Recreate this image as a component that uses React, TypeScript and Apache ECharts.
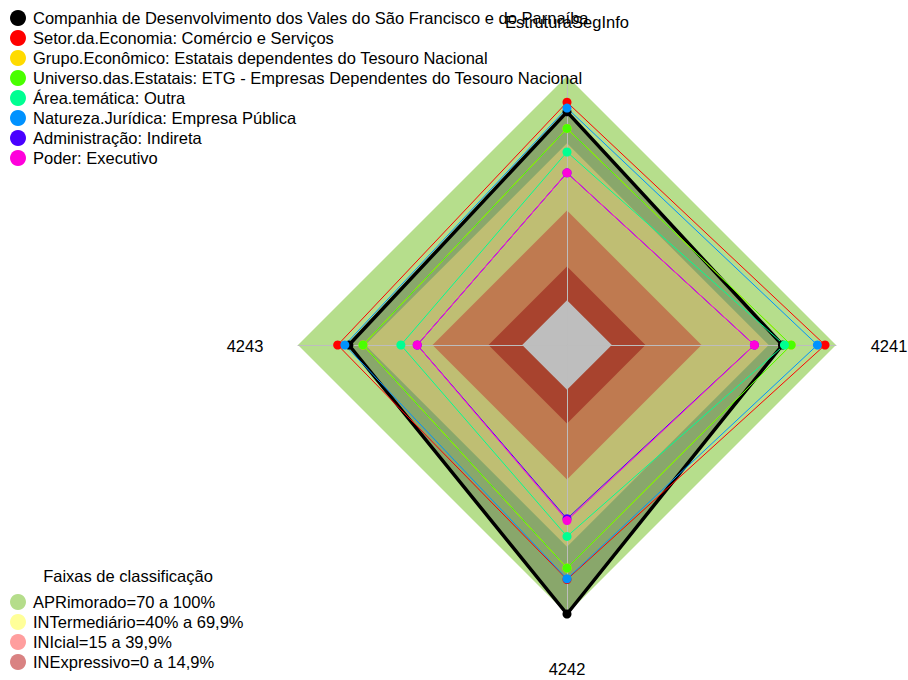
import React, { useEffect, useRef } from "react";
import * as echarts from "echarts";

// Axes (counter-clockwise from the top, as in the reference)
const indicatorNames = ["EstruturaSegInfo", "4243", "4242", "4241"];
const axisMin = -20;
const axisMax = 100;

// Series (values in the same order as indicatorNames)
const seriesNames = [
  "Companhia de Desenvolvimento dos Vales do São Francisco e do Parnaíba",
  "Setor.da.Economia: Comércio e Serviços",
  "Grupo.Econômico: Estatais dependentes do Tesouro Nacional",
  "Universo.das.Estatais: ETG - Empresas Dependentes do Tesouro Nacional",
  "Área.temática: Outra",
  "Natureza.Jurídica: Empresa Pública",
  "Administração: Indireta",
  "Poder: Executivo",
];
const seriesColors = ["#000000", "#FF0000", "#FFDB00", "#49FF00", "#00FF92", "#0092FF", "#4900FF", "#FF00DB"];
const companhia = [84, 77.3, 100, 76.1];
const setor = [88.3, 82.3, 84.6, 95.1];
const grupo = [76.6, 71.0, 79.5, 80.0];
const universo = [76.6, 71.0, 79.5, 80.0];
const areaTematica = [66.1, 54.1, 65.4, 77.0];
const natureza = [85.7, 79.1, 84.3, 91.7];
const administracao = [56.8, 46.8, 57.5, 63.6];
const poder = [56.8, 46.8, 58.3, 63.6];
const seriesValues = [companhia, setor, grupo, universo, areaTematica, natureza, administracao, poder];

// Classification bands
const bandTitle = "Faixas de classificação";
const bandNames = [
  "APRimorado=70 a 100%",
  "INTermediário=40% a 69,9%",
  "INIcial=15 a 39,9%",
  "INExpressivo=0 a 14,9%",
];
const bandUpper = [100, 70, 40, 15];
const bandLegendColors = ["#B5DD8B", "#FFFF99", "#FF9E9E", "#D98282"];
const bandFillColors = ["#B6DE8C", "#BFBE73", "#BF7A50", "#A8432E"];
const centerValue = 0;
const centerColor = "#BEBEBE";
const companhiaFill = "#89A76B";

const FONT = "'Liberation Sans', Arial, sans-serif";
const FS = 16.5;

export default function App() {
  const ref = useRef<HTMLDivElement>(null);

  useEffect(() => {
    if (!ref.current) return;
    const chart = echarts.init(ref.current, null, { renderer: "svg" });
    const n = indicatorNames.length;
    const cx = 567;
    const cy = 345;
    const R = 269;

    const series: any[] = [];
    series.push({
      type: "radar",
      name: bandNames[0],
      z: 1,
      silent: true,
      symbol: "none",
      lineStyle: { width: 0, opacity: 0 },
      areaStyle: { color: bandFillColors[0], opacity: 1 },
      itemStyle: { color: bandLegendColors[0] },
      data: [{ value: new Array(n).fill(bandUpper[0]) }],
    });
    series.push({
      type: "radar",
      name: "__companhiaFill",
      z: 1,
      silent: true,
      symbol: "none",
      lineStyle: { width: 0, opacity: 0 },
      areaStyle: { color: companhiaFill, opacity: 1 },
      data: [{ value: companhia }],
    });
    for (let i = 1; i < bandUpper.length; i++) {
      series.push({
        type: "radar",
        name: bandNames[i],
        z: 1,
        silent: true,
        symbol: "none",
        lineStyle: { width: 0, opacity: 0 },
        areaStyle: { color: bandFillColors[i], opacity: 1 },
        itemStyle: { color: bandLegendColors[i] },
        data: [{ value: new Array(n).fill(bandUpper[i]) }],
      });
    }
    series.push({
      type: "radar",
      name: "__center",
      z: 1,
      silent: true,
      symbol: "none",
      lineStyle: { width: 0, opacity: 0 },
      areaStyle: { color: centerColor, opacity: 1 },
      data: [{ value: new Array(n).fill(centerValue) }],
    });

    seriesNames.forEach((name, i) => {
      series.push({
        type: "radar",
        name,
        z: 3,
        symbol: "circle",
        symbolSize: 9,
        itemStyle: { color: seriesColors[i], borderWidth: 0 },
        lineStyle: { color: seriesColors[i], width: i === 0 ? 3.5 : 1 },
        data: [{ value: seriesValues[i], name }],
      });
    });

    const nameGraphics = [
      { text: indicatorNames[0], x: cx, y: 22 },
      { text: indicatorNames[1], x: 245, y: cy + 1 },
      { text: indicatorNames[2], x: cx, y: 669 },
      { text: indicatorNames[3], x: 889, y: cy + 1 },
    ].map((g) => ({
      type: "text",
      x: g.x,
      y: g.y,
      z: 10,
      style: {
        text: g.text,
        fill: "#000",
        font: `${FS}px ${FONT}`,
        textAlign: "center",
        textVerticalAlign: "middle",
      },
    }));

    const legendBase = {
      orient: "vertical",
      icon: "circle",
      padding: 0,
      itemWidth: 20,
      itemHeight: 16,
      itemGap: 3,
      selectedMode: false,
      textStyle: { fontSize: FS, color: "#000", fontFamily: FONT },
    };

    chart.setOption({
      animation: false,
      backgroundColor: "#ffffff",
      radar: {
        z: 2,
        center: [cx, cy],
        radius: R,
        startAngle: 90,
        shape: "polygon",
        splitNumber: 1,
        indicator: indicatorNames.map((name) => ({ name, min: axisMin, max: axisMax })),
        axisName: { show: false },
        axisLine: { lineStyle: { color: "#BDBDBD", width: 1 } },
        splitLine: { show: false },
        splitArea: { show: false },
        axisTick: { show: false },
        axisLabel: { show: false },
      },
      legend: [
        {
          ...legendBase,
          left: 10,
          top: 9.5,
          data: seriesNames.map((name, i) => ({
            name,
            itemStyle: { color: seriesColors[i], borderWidth: 0 },
          })),
        },
        {
          ...legendBase,
          left: 10,
          top: 593.5,
          data: bandNames.map((name, i) => ({
            name,
            itemStyle: { color: bandLegendColors[i], borderWidth: 0, opacity: 1 },
          })),
        },
      ],
      graphic: [
        ...nameGraphics,
        {
          type: "text",
          x: 128,
          y: 576,
          style: {
            text: bandTitle,
            fill: "#000",
            font: `${FS}px ${FONT}`,
            textAlign: "center",
            textVerticalAlign: "middle",
          },
        },
      ],
      series,
    });

    return () => chart.dispose();
  }, []);

  return (
    <div
      ref={ref}
      style={{ position: "absolute", left: 0, top: 0, width: 908, height: 680 }}
    />
  );
}
